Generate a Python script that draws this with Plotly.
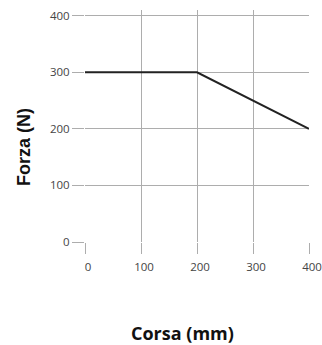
import plotly.graph_objects as go

corsa_mm = [0, 200, 400]
forza_n = [300, 300, 200]
x_ticks = [0, 100, 200, 300, 400]
y_ticks = [0, 100, 200, 300, 400]
x_title = "Corsa (mm)"
y_title = "Forza (N)"

W, H = 322, 345
L, R, T, B = 85, 13, 10, 103

fig = go.Figure()
fig.add_trace(go.Scatter(
    x=corsa_mm, y=forza_n, mode="lines",
    line=dict(color="#222222", width=2),
    showlegend=False, hoverinfo="skip",
))

grid = "#adadad"
tickfont = dict(family="Open Sans", size=11.5, color="#444444")
fig.update_xaxes(
    range=[0, 400], tickvals=x_ticks, ticktext=[str(v) for v in x_ticks],
    showgrid=True, gridcolor=grid, gridwidth=1,
    ticks="outside", ticklen=11, tickcolor=grid, tickwidth=1,
    showline=False, zeroline=False, tickfont=tickfont, automargin=False,
    ticklabelstandoff=3, ticklabelshift=3,
)
fig.update_yaxes(
    range=[0, 410], tickvals=y_ticks, ticktext=[str(v) for v in y_ticks],
    showgrid=True, gridcolor=grid, gridwidth=1,
    ticks="outside", ticklen=12, tickcolor=grid, tickwidth=1,
    showline=False, zeroline=False, tickfont=tickfont, automargin=False,
)

pw = W - L - R
ph = H - T - B
fig.add_annotation(
    text=f"<b>{x_title}</b>", xref="paper", yref="paper",
    x=(182.5 - L) / pw, y=(H - B - 333) / ph,
    xanchor="center", yanchor="middle", showarrow=False,
    font=dict(family="Open Sans", size=18, color="#111111"),
)
fig.add_annotation(
    text=f"<b>{y_title}</b>", xref="paper", yref="paper",
    x=(24 - L) / pw, y=(H - B - 147) / ph,
    xanchor="center", yanchor="middle", showarrow=False, textangle=-90,
    font=dict(family="Liberation Sans", size=18, color="#111111"),
)

fig.update_layout(
    width=W, height=H,
    margin=dict(l=L, r=R, t=T, b=B, pad=0, autoexpand=False),
    paper_bgcolor="white", plot_bgcolor="white",
)
fig.write_html(
    "out.html",
    config={"displayModeBar": False},
    post_script="document.body.style.margin='0';document.body.style.overflow='hidden';",
)
